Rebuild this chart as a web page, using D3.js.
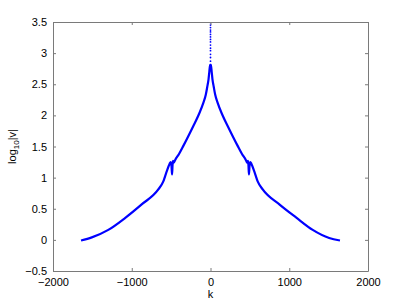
<!DOCTYPE html>
<html>
<head>
<meta charset="utf-8">
<script src="https://cdn.jsdelivr.net/npm/d3@7"></script>
<style>
  body { margin: 0; background: #fff; }
  svg text { font-family: "Liberation Sans", Arial, Helvetica, sans-serif; font-size: 11px; fill: #000; }
</style>
</head>
<body>
<div id="vis"></div>
<script>
// curve: k and log10|v|
const kValues = [-1644, -1507, -1298, -1086, -874, -663, -599, -556, -520, -505, -495, -488, -482, -475, -465, -450, -400,
  -345, -218, -150, -91, -60, -41, -25, -15, -5,
  5, 15, 25, 41, 60, 91, 150, 218, 345,
  400, 450, 465, 475, 482, 488, 495, 505, 520, 556, 599, 663, 874, 1086, 1298, 1507, 1644];
const logV = [-0.01, 0.04, 0.16, 0.35, 0.57, 0.81, 0.94, 1.10, 1.22, 1.25, 1.18, 1.05, 1.20, 1.27, 1.24, 1.28, 1.38,
  1.51, 1.83, 2.01, 2.20, 2.33, 2.46, 2.58, 2.70, 2.81,
  2.81, 2.70, 2.58, 2.46, 2.33, 2.20, 2.01, 1.83, 1.51,
  1.38, 1.28, 1.24, 1.27, 1.20, 1.05, 1.18, 1.25, 1.22, 1.10, 0.94, 0.81, 0.57, 0.36, 0.16, 0.03, -0.01];
// loose points close to k = 0
const centreK = [0, 0, 0, 0, 0, 0, 0, 0, 0, 0, 0, 0, 0, 0, 0];
const centreV = [3.49, 3.45, 3.41, 3.37, 3.34, 3.30, 3.26, 3.22, 3.18, 3.13, 3.08, 3.04, 2.98, 2.93, 2.87];

const xTicks = [-2000, -1000, 0, 1000, 2000];
const yTicks = [-0.5, 0, 0.5, 1, 1.5, 2, 2.5, 3, 3.5];

const width = 407, height = 305;
const margins = {top: 22, bottom: 34, left: 53, right: 39};

const xScale = d3.scaleLinear().domain([-2000, 2000]).range([margins.left, width - margins.right]);
const yScale = d3.scaleLinear().domain([-0.5, 3.5]).range([height - margins.bottom, margins.top]);
const fmt = d3.format("~g");
const axisColor = "#7a7a7a";

const svg = d3.select("#vis").append("svg").attr("width", width).attr("height", height);

svg.append("defs").append("clipPath").attr("id", "plotClip")
  .append("rect")
  .attr("x", xScale(-2000)).attr("y", yScale(3.5))
  .attr("width", xScale(2000) - xScale(-2000)).attr("height", yScale(-0.5) - yScale(3.5));

const curve = kValues.map((k, i) => [k, logV[i]]);
const dots = centreK.map((k, i) => [k, centreV[i]]);

const plot = svg.append("g").attr("clip-path", "url(#plotClip)");
plot.append("path")
  .datum(curve)
  .attr("d", d3.line().x(d => xScale(d[0])).y(d => yScale(d[1])).curve(d3.curveMonotoneX))
  .attr("fill", "none")
  .attr("stroke", "#0000ff")
  .attr("stroke-width", 2.2)
  .attr("stroke-linejoin", "round");
plot.selectAll("circle.centre").data(dots).enter().append("circle")
  .attr("class", "centre")
  .attr("cx", d => xScale(d[0]))
  .attr("cy", d => yScale(d[1]))
  .attr("r", 0.9)
  .attr("fill", "#0000ff");

// axes, ticks pointing inwards like the original
const tickLen = 3;
const xAxisB = d3.axisBottom(xScale).tickValues(xTicks).tickFormat(fmt).tickSizeInner(-tickLen).tickSizeOuter(0).tickPadding(7);
const xAxisT = d3.axisTop(xScale).tickValues(xTicks).tickFormat("").tickSizeInner(-tickLen).tickSizeOuter(0);
const yAxisL = d3.axisLeft(yScale).tickValues(yTicks).tickFormat(fmt).tickSizeInner(-tickLen).tickSizeOuter(0).tickPadding(6);
const yAxisR = d3.axisRight(yScale).tickValues(yTicks).tickFormat("").tickSizeInner(-tickLen).tickSizeOuter(0);

const gB = svg.append("g").attr("transform", `translate(0, ${yScale(-0.5)})`).call(xAxisB);
const gT = svg.append("g").attr("transform", `translate(0, ${yScale(3.5)})`).call(xAxisT);
const gL = svg.append("g").attr("transform", `translate(${xScale(-2000)}, 0)`).call(yAxisL);
const gR = svg.append("g").attr("transform", `translate(${xScale(2000)}, 0)`).call(yAxisR);

[gB, gT, gL, gR].forEach(g => {
  g.select(".domain").attr("stroke", axisColor);
  g.selectAll(".tick line").attr("stroke", axisColor);
  g.selectAll("text").style("font-size", "11px").attr("fill", "#000");
});

// axis labels
svg.append("text")
  .attr("x", xScale(0)).attr("y", 298)
  .attr("text-anchor", "middle")
  .text("k");

const ylab = svg.append("text")
  .attr("transform", `translate(16, ${(yScale(-0.5) + yScale(3.5)) / 2}) rotate(-90)`)
  .attr("text-anchor", "middle");
ylab.append("tspan").text("log");
ylab.append("tspan").attr("dy", 3).style("font-size", "8px").text("10");
ylab.append("tspan").attr("dy", -3).text("|v|");
</script>
</body>
</html>
